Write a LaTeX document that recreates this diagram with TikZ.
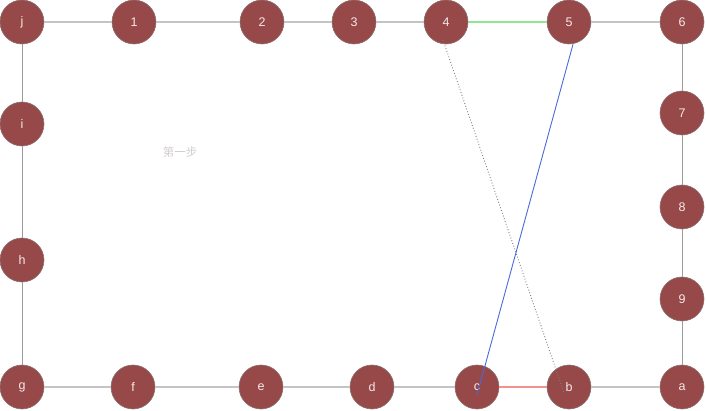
\documentclass[tikz,border=0pt]{standalone}
\usepackage{fontspec}
\setmainfont{Liberation Sans}
\newfontfamily\cjk{Noto Sans CJK SC}
\definecolor{nodefill}{HTML}{974848}
\definecolor{nodeborder}{HTML}{8A7070}
\definecolor{edgegray}{HTML}{C4C4C4}
\definecolor{edgedark}{HTML}{9C9C9C}
\definecolor{greenedge}{HTML}{8EE68E}
\definecolor{rededge}{HTML}{F59090}
\definecolor{blueedge}{HTML}{4A6AD8}
\definecolor{labeltext}{HTML}{F8E8E8}
\definecolor{steptext}{HTML}{D2CCD2}
\begin{document}
\begin{tikzpicture}[x=1pt,y=-1pt,
  vert/.style={circle,fill=nodefill,draw=nodeborder,line width=0.6pt,minimum size=44pt,inner sep=0pt,text=labeltext,font=\fontsize{12.5}{14}\selectfont},
  hedge/.style={draw=edgegray,line width=1.6pt},
  vedge/.style={draw=edgedark,line width=0.9pt}]
\useasboundingbox (0,0) rectangle (706,411);
% nodes
\node[vert] (nj) at (22,22) {j};
\node[vert] (n1) at (134,22) {1};
\node[vert] (n2) at (262,22) {2};
\node[vert] (n3) at (354,22) {3};
\node[vert] (n4) at (446,22) {4};
\node[vert] (n5) at (569,22) {5};
\node[vert] (n6) at (682,22) {6};
\node[vert] (n7) at (682,113) {7};
\node[vert] (n8) at (682,207) {8};
\node[vert] (n9) at (682,299) {9};
\node[vert] (na) at (682,387) {a};
\node[vert] (nb) at (569,387) {b};
\node[vert] (nc) at (477,387) {c};
\node[vert] (nd) at (372,387) {d};
\node[vert] (ne) at (261,387) {e};
\node[vert] (nf) at (133,387) {f};
\node[vert] (ng) at (22,387) {g};
\node[vert] (nh) at (22,260) {h};
\node[vert] (ni) at (22,124) {i};
\node[text=steptext,font=\cjk\fontsize{11.5}{13}\selectfont] (step1) at (180,152) {第一步};
% edges
\draw[hedge] (nj) -- (n1);
\draw[hedge] (n1) -- (n2);
\draw[hedge] (n2) -- (n3);
\draw[hedge] (n3) -- (n4);
\draw[greenedge,line width=1.6pt] (n4) -- (n5);
\draw[hedge] (n5) -- (n6);
\draw[vedge] (n6) -- (n7);
\draw[vedge] (n7) -- (n8);
\draw[vedge] (n8) -- (n9);
\draw[vedge] (n9) -- (na);
\draw[hedge] (na) -- (nb);
\draw[rededge,line width=1.6pt] (nb) -- (nc);
\draw[hedge] (nc) -- (nd);
\draw[hedge] (nd) -- (ne);
\draw[hedge] (ne) -- (nf);
\draw[hedge] (nf) -- (ng);
\draw[vedge] (ng) -- (nh);
\draw[vedge] (nh) -- (ni);
\draw[vedge] (ni) -- (nj);
\draw[blueedge,line width=0.9pt] ([xshift=4pt]n5.south) -- ([yshift=-8pt]nc.center);
\draw[gray,dotted,line width=0.9pt] ([xshift=-3pt,yshift=-18pt]n4.center) -- ([xshift=-5pt,yshift=-6pt]nb.center);
\end{tikzpicture}
\end{document}
